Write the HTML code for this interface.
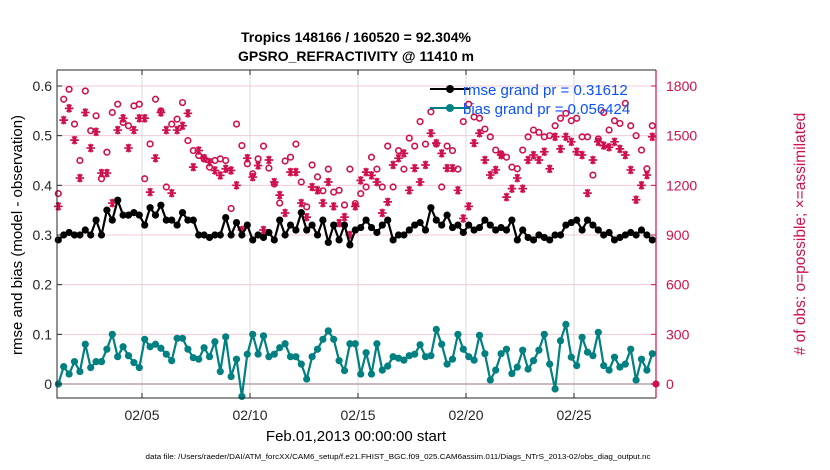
<!DOCTYPE html>
<html><head><meta charset="utf-8">
<style>
html,body{margin:0;padding:0;background:#fff;}
svg{display:block;font-family:"Liberation Sans",Arial,sans-serif;}
</style></head>
<body>
<svg id="chart" width="830" height="470" viewBox="0 0 830 470">
  <text x="356" y="42" text-anchor="middle" font-size="14" font-weight="bold">Tropics 148166 / 160520 = 92.304%</text>
  <text x="356" y="61" text-anchor="middle" font-size="14" font-weight="bold">GPSRO_REFRACTIVITY @ 11410 m</text>
  <g id="grid"></g>
  <g id="series"></g>
  <g id="axes"></g>
  <text transform="translate(22,235) rotate(-90)" text-anchor="middle" font-size="15">rmse and bias (model - observation)</text>
  <text transform="translate(805,234) rotate(-90)" text-anchor="middle" font-size="15.5" fill="#d0104c"># of obs: o=possible; ×=assimilated</text>
  <text x="356" y="441" text-anchor="middle" font-size="15">Feb.01,2013 00:00:00 start</text>
  <text x="398" y="459" text-anchor="middle" font-size="7" textLength="505" lengthAdjust="spacingAndGlyphs">data file: /Users/raeder/DAI/ATM_forcXX/CAM6_setup/f.e21.FHIST_BGC.f09_025.CAM6assim.011/Diags_NTrS_2013-02/obs_diag_output.nc</text>
  <g>
    <line x1="430" y1="89" x2="470" y2="89" stroke="#000" stroke-width="2"/>
    <circle cx="450" cy="89" r="4" fill="#000"/>
    <text x="463" y="95" font-size="15" fill="#0a50ff">rmse grand pr = 0.31612</text>
    <line x1="430" y1="108" x2="470" y2="108" stroke="#008080" stroke-width="2"/>
    <circle cx="450" cy="108" r="4" fill="#008080"/>
    <text x="463" y="114" font-size="15" fill="#0a50ff">bias grand pr = 0.056424</text>
  </g>
</svg>
<script>
const rmse = [0.29,0.30,0.305,0.30,0.30,0.31,0.30,0.33,0.30,0.35,0.33,0.37,0.34,0.34,0.345,0.34,0.32,0.355,0.34,0.36,0.33,0.33,0.32,0.345,0.33,0.33,0.30,0.30,0.295,0.30,0.30,0.335,0.30,0.325,0.30,0.32,0.29,0.30,
0.295,0.305,0.29,0.33,0.30,0.32,0.31,0.345,0.31,0.32,0.30,0.33,0.285,0.32,0.29,0.32,0.28,0.31,0.315,0.33,0.315,0.305,0.32,0.33,0.29,0.30,0.30,0.31,0.32,0.325,0.31,0.355,0.33,0.32,0.34,0.315,0.32,0.305,0.32,0.31,
0.315,0.33,0.32,0.31,0.315,0.31,0.33,0.29,0.31,0.295,0.29,0.30,0.295,0.29,0.30,0.30,0.32,0.325,0.33,0.31,0.33,0.32,0.31,0.30,0.305,0.29,0.295,0.30,0.305,0.30,0.31,0.30,0.29];
const bias = [0,0.035,0.02,0.045,0.025,0.08,0.033,0.045,0.045,0.07,0.10,0.055,0.075,0.057,0.043,0.033,0.09,0.075,0.08,0.072,0.06,0.047,0.092,0.092,0.07,0.053,0.05,0.073,0.055,0.085,0.025,0.095,0.015,0.05,-0.025,0.06,0.10,0.06,
0.097,0.055,0.06,0.073,0.081,0.055,0.055,0.04,0.01,0.055,0.07,0.09,0.107,0.09,0.047,0.027,0.081,0.081,0.02,0.063,0.02,0.081,0.028,0.036,0.055,0.052,0.048,0.057,0.06,0.079,0.055,0.057,0.11,0.08,0.04,0.05,0.1,0.07,0.055,0.048,
0.098,0.061,0.008,0.028,0.061,0.07,0.021,0.034,0.068,0.03,0.047,0.068,0.1,0.04,-0.01,0.087,0.12,0.054,0.037,0.094,0.064,0.057,0.104,0.037,0.028,0.054,0.034,0.04,0.07,0.008,0.05,0.028,0.061];
const possible = [1150,1720,1780,1570,1350,1770,1530,1620,1240,1400,1640,1690,1580,1560,1680,1690,1240,1450,1720,1650,1190,1570,1600,1700,1470,1410,1380,1360,1310,1350,1360,1350,1060,1570,1440,1330,1270,1360,
1437,1304,1208,1093,1347,1370,1449,1220,1070,1323,1251,1167,1298,1159,1170,1081,1298,1090,1150,1190,1370,1298,1190,1437,1190,1410,1298,1485,1437,1585,1449,1644,1449,1190,1437,1410,1298,1585,1690,1613,
1605,1540,1493,1413,1390,1370,1310,1300,1413,1493,1534,1520,1493,1500,1560,1605,1635,1590,1605,1493,1493,1262,1480,1640,1534,1590,1574,1695,1560,1500,1413,1300,1560];
const assimilated = [1073,1594,1665,1473,1244,1640,1425,1523,1274,1274,1093,1534,1605,1425,1534,1605,1605,1159,1364,1640,1534,1153,1534,1560,1635,1310,1410,1364,1340,1290,1260,1300,1290,1200,930,1364,1250,1320,
930,1353,1220,1141,1033,1280,1280,1093,1008,1190,1170,1093,1220,1073,972,1008,900,1073,1230,1280,1260,1220,1033,1100,1323,1364,1393,1170,1304,1220,1323,1515,1455,1393,1304,1304,1170,1000,1073,1455,
1515,1353,1262,1293,1383,1129,1180,1244,1180,1353,1383,1353,1403,1300,1493,1420,1493,1463,1403,1383,1153,1353,1463,1440,1430,1463,1420,1383,1293,1113,1200,1262,1493];
const xTickDays = [4,9,14,19,24];
const xTickLabels = ["02/05","02/10","02/15","02/20","02/25"];
const yLeftTicks = [0,0.1,0.2,0.3,0.4,0.5,0.6];
const yLeftLabels = ["0","0.1","0.2","0.3","0.4","0.5","0.6"];
const yRightTicks = [0,300,600,900,1200,1500,1800];
const firstDay = 0.125, stepDay = 0.25;

const L=57,R=656,T=70,B=398;
const NS="http://www.w3.org/2000/svg";
const xS = d => 55.6 + d*21.6;
const yL = v => 384 - v*496.7;
const yR = v => 384 - v*(298/1800);
function mk(tag, attrs, parent){const e=document.createElementNS(NS,tag);for(const k in attrs)e.setAttribute(k,attrs[k]);parent.appendChild(e);return e;}
const grid=document.getElementById('grid'), ser=document.getElementById('series'), ax=document.getElementById('axes');

yRightTicks.forEach(v=>{
  const l=mk('line',{x1:L,x2:R,y1:yR(v),y2:yR(v),stroke:'#f2c9d8','stroke-width':1},grid);
  
  
});
xTickDays.forEach(d=>{
  const l=mk('line',{x1:xS(d),x2:xS(d),y1:T,y2:B,stroke:'#d9d9d9','stroke-width':1},grid);
  
  
});
const zl=mk('line',{x1:L,x2:R,y1:yL(0),y2:yL(0),stroke:'#c8b8c0','stroke-width':2},grid);



const dayOf = i => firstDay + i*stepDay;
possible.forEach((v,i)=>{
  const c=mk('circle',{cx:xS(dayOf(i)),cy:yR(v),r:2.8,fill:'none',stroke:'#d0104c','stroke-width':1.6},ser);
  
  
});
assimilated.forEach((v,i)=>{
  const x=xS(dayOf(i)), y=yR(v), r=4.3;
  const p=mk('path',{d:`M${x-r} ${y}H${x+r}M${x-r*0.5} ${y-r*0.87}L${x+r*0.5} ${y+r*0.87}M${x-r*0.5} ${y+r*0.87}L${x+r*0.5} ${y-r*0.87}M${x} ${y-r}V${y+r}`,stroke:'#d0104c','stroke-width':1.7},ser);
  
  
});
function line(arr,color,name){
  const pts=arr.map((v,i)=>xS(dayOf(i)).toFixed(1)+','+yL(v).toFixed(1)).join(' ');
  const pl=mk('polyline',{points:pts,fill:'none',stroke:color,'stroke-width':2.2,'stroke-linejoin':'round'},ser);
  
  
  arr.forEach((v,i)=>{
    const c=mk('circle',{cx:xS(dayOf(i)),cy:yL(v),r:3.6,fill:color},ser);
    
    
  });
}
line(rmse,'#000','rmse');
line(bias,'#008080','bias');
const ep=mk('circle',{cx:R,cy:yR(0),r:3.6,fill:'#d0104c'},ser);



const fr=mk('path',{d:`M${L} ${T}H${R}M${L} ${T}V${B}H${R}`,fill:'none',stroke:'#262626','stroke-width':1},ax);


const ra=mk('line',{x1:R,x2:R,y1:T,y2:B,stroke:'#d0104c','stroke-width':1.2},ax);


xTickDays.forEach((d,i)=>{
  mk('line',{x1:xS(d),x2:xS(d),y1:B,y2:B-5,stroke:'#262626'},ax);
  mk('line',{x1:xS(d),x2:xS(d),y1:T,y2:T+5,stroke:'#262626'},ax);
  const t=mk('text',{x:xS(d),y:420,'text-anchor':'middle','font-size':14,fill:'#262626'},ax);
  t.textContent=xTickLabels[i];
  
  
});
yLeftTicks.forEach((v,i)=>{
  mk('line',{x1:L,x2:L+5,y1:yL(v),y2:yL(v),stroke:'#262626'},ax);
  const t=mk('text',{x:L-5,y:yL(v)+5,'text-anchor':'end','font-size':14,fill:'#262626'},ax);
  t.textContent=yLeftLabels[i];
  
  
});
yRightTicks.forEach(v=>{
  mk('line',{x1:R-5,x2:R,y1:yR(v),y2:yR(v),stroke:'#d0104c'},ax);
  const t=mk('text',{x:R+10,y:yR(v)+5,'text-anchor':'start','font-size':14,fill:'#d0104c'},ax);
  t.textContent=String(v);
  
  
});
</script>
</body></html>
